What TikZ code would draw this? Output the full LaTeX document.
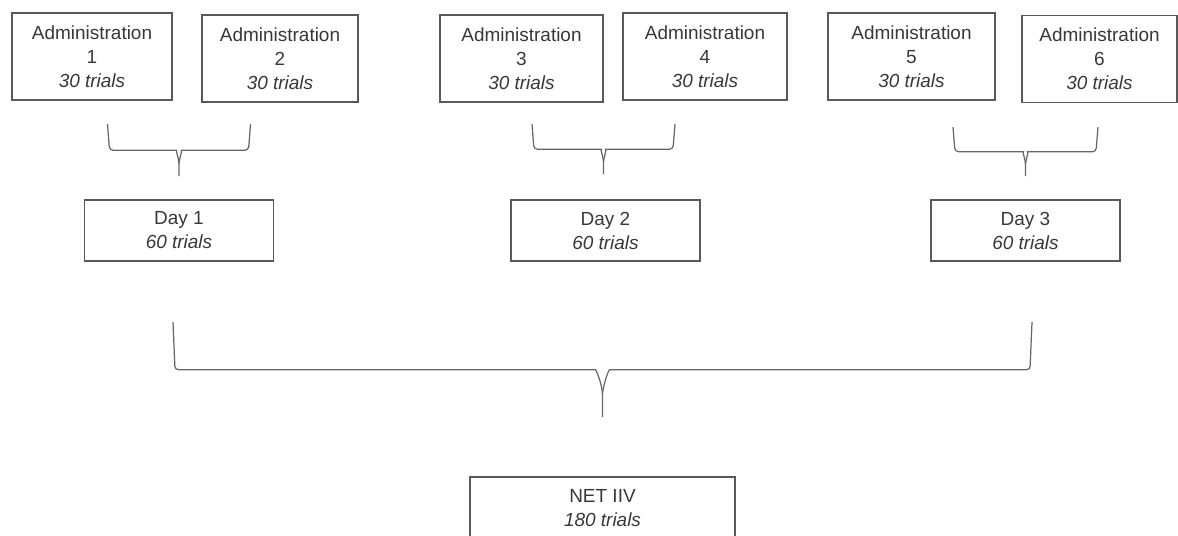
\documentclass[tikz,border=0pt]{standalone}
\usepackage{fontspec}
\setmainfont{Liberation Sans}
\usetikzlibrary{calc,positioning}

\tikzset{
	box/.style={draw=black!65, line width=0.9pt, rectangle, align=center, inner sep=0pt, text=black!78, font=\fontsize{10.8}{13.7}\selectfont},
	adminbox/.style={box, minimum width=3.2cm, minimum height=1.74cm},
	daybox/.style={box, minimum width=3.78cm, minimum height=1.22cm},
	bracket/.style={draw=black!60, line width=0.7pt, rounded corners=2pt},
}

% curly brace opening downwards: tip, half width, height
\newcommand{\curlybrace}[3]{%
	\draw[bracket] ($(#1)+(-#2,-#3)$) -- ($(#1)+(-#2+2,-#3/2)$) -- ($(#1)+(-#3/9,-#3/2)$)
		.. controls ($(#1)+(-#3/15,-#3/2)$) and ($(#1)+(-#3/60,-#3/2+#3/8)$) .. ($(#1)+(0,-#3/2+#3/4)$) -- (#1);
	\draw[bracket] ($(#1)+(#2,-#3)$) -- ($(#1)+(#2-2,-#3/2)$) -- ($(#1)+(#3/9,-#3/2)$)
		.. controls ($(#1)+(#3/15,-#3/2)$) and ($(#1)+(#3/60,-#3/2+#3/8)$) .. ($(#1)+(0,-#3/2+#3/4)$);
}

\begin{document}
\begin{tikzpicture}[x=0.02cm, y=-0.02cm]
		\clip (0,0) rectangle (1178,535);

		\node[adminbox] (adm1) at (92,56.5) {Administration\\1\\\textit{30 trials}};
		\node[adminbox, minimum width=3.12cm] (adm2) at (280,58.5) {Administration\\2\\\textit{30 trials}};
		\node[adminbox, minimum width=3.26cm] (adm3) at (521.5,58.5) {Administration\\3\\\textit{30 trials}};
		\node[adminbox, minimum width=3.28cm] (adm4) at (705,56.5) {Administration\\4\\\textit{30 trials}};
		\node[adminbox, minimum width=3.34cm] (adm5) at (911.5,56.5) {Administration\\5\\\textit{30 trials}};
		\node[adminbox, minimum width=3.1cm] (adm6) at (1099.5,59) {Administration\\6\\\textit{30 trials}};

		\node[daybox] (day1) at (179,230.5) {Day 1\\\textit{60 trials}};
		\node[daybox] (day2) at (605.5,230.5) {Day 2\\\textit{60 trials}};
		\node[daybox] (day3) at (1025.5,230.5) {Day 3\\\textit{60 trials}};

		\node[box, minimum width=5.3cm, minimum height=1.26cm] (net) at (602.5,508.5) {NET IIV\\\textit{180 trials}};

		\coordinate (tip1) at ($(day1.north)+(0,-23)$);
		\coordinate (tip2) at ($(day2.north)+(-2,-25)$);
		\coordinate (tip3) at ($(day3.north)+(0,-23)$);
		\coordinate (tipnet) at ($(net.north)+(0,-59)$);

		\curlybrace{tip1}{71.5}{52}
		\curlybrace{tip2}{71.5}{50}
		\curlybrace{tip3}{72.5}{49}
		\curlybrace{tipnet}{429.5}{95}
	\end{tikzpicture}
\end{document}
